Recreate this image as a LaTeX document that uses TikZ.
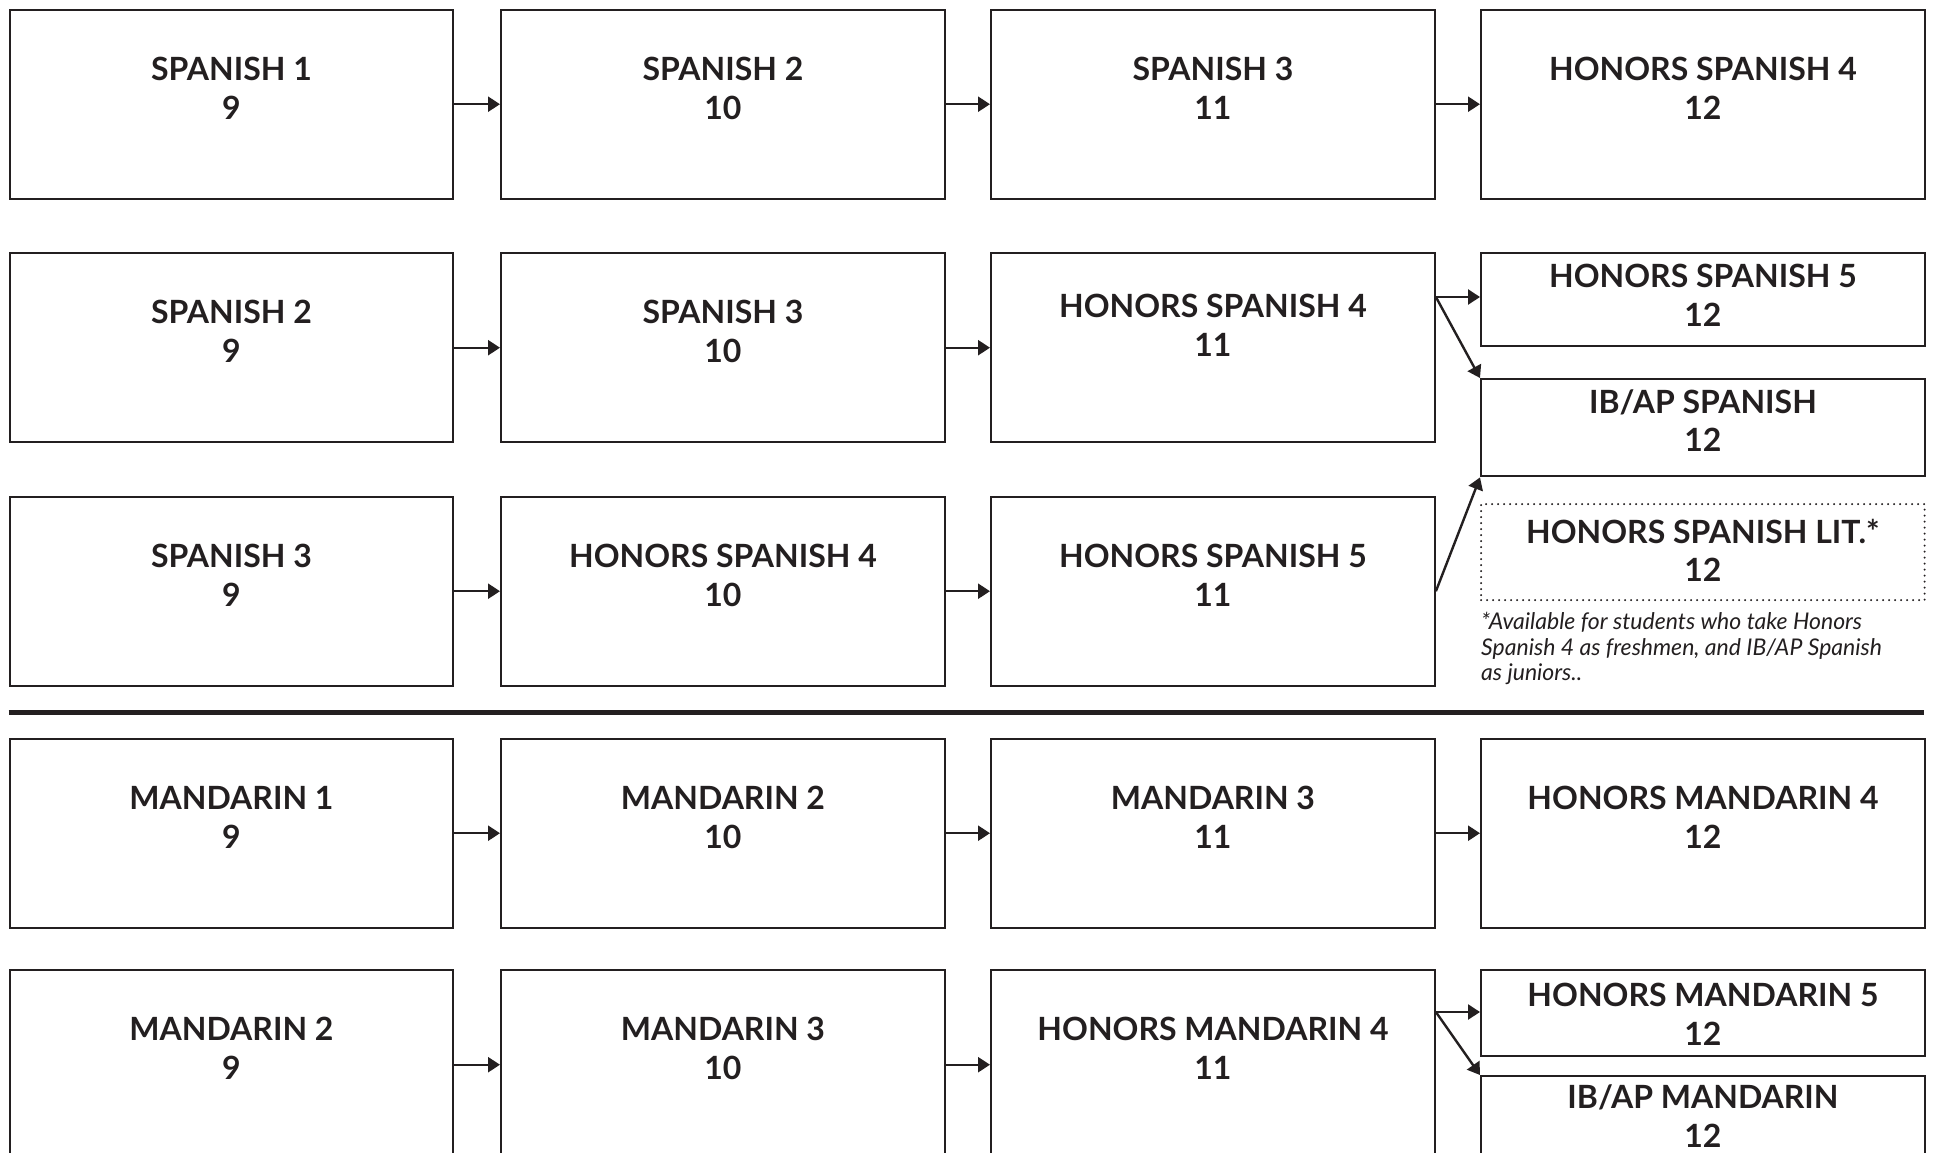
\documentclass[tikz,border=0pt]{standalone}
\usepackage{fontspec}
\setmainfont{Lato}
\usetikzlibrary{arrows.meta,calc}
\definecolor{ink}{RGB}{35,31,32}
\newcommand\coursebox[6]{%
  \node[box] (#1) at (#2,#3) {};
  \node[ttl] (#1t) at ($(#1.north)+(0,71.5+#6)$) {#4};
  \node[ttl] (#1n) at ($(#1.north)+(0,110.5+#6)$) {#5};
}
\begin{document}
\begin{tikzpicture}[x=1pt,y=-1pt,
  box/.style={draw=ink, line width=2.4pt, rectangle, inner sep=0pt, minimum width=443.5pt, minimum height=189pt, anchor=north west},
  ttl/.style={anchor=base, inner sep=0pt, font=\fontsize{32}{38}\selectfont\bfseries, text=ink},
  arr/.style={draw=ink, line width=2.4pt, -{Triangle[length=12pt,width=15pt]}},
  dotbox/.style={draw=ink, line width=2.2pt, dash pattern=on 0pt off 6pt, line cap=round, rectangle, inner sep=0pt, minimum width=443.5pt, anchor=north west},
  note/.style={anchor=north west, align=left, inner sep=0pt, font=\fontsize{23}{25.5}\selectfont\itshape, text=ink},
]
\path[clip] (0,0) rectangle (1935,1152);
\fill[white] (0,0) rectangle (1935,1152);

% Row 1
\coursebox{a1}{8.5}{8.5}{SPANISH 1}{9}{0}
\coursebox{a2}{500}{8.5}{SPANISH 2}{10}{0}
\coursebox{a3}{990}{8.5}{SPANISH 3}{11}{0}
\coursebox{a4}{1480}{8.5}{HONORS SPANISH 4}{12}{0}
\draw[arr] (a1.east) -- (a2.west);
\draw[arr] (a2.east) -- (a3.west);
\draw[arr] (a3.east) -- (a4.west);

% Row 2
\coursebox{b1}{8.5}{252}{SPANISH 2}{9}{0}
\coursebox{b2}{500}{252}{SPANISH 3}{10}{0}
\coursebox{b3}{990}{252}{HONORS SPANISH 4}{11}{-6}
\draw[arr] (b1.east) -- (b2.west);
\draw[arr] (b2.east) -- (b3.west);

% Row 3
\coursebox{c1}{8.5}{495.5}{SPANISH 3}{9}{0}
\coursebox{c2}{500}{495.5}{HONORS SPANISH 4}{10}{0}
\coursebox{c3}{990}{495.5}{HONORS SPANISH 5}{11}{0}
\draw[arr] (c1.east) -- (c2.west);
\draw[arr] (c2.east) -- (c3.west);

% Spanish 12th grade options
\node[box, minimum height=93pt] (hs5) at (1480,252) {};
\node[ttl] (hs5t) at ($(hs5.north)+(0,35)$) {HONORS SPANISH 5};
\node[ttl] (hs5n) at ($(hs5.north)+(0,74.5)$) {12};
\node[box, minimum height=97pt] (ibs) at (1480,378) {};
\node[ttl] (ibst) at ($(ibs.north)+(0,35)$) {IB/AP SPANISH};
\node[ttl] (ibsn) at ($(ibs.north)+(0,73.5)$) {12};
\node[dotbox, minimum height=96pt] (lit) at (1480,503) {};
\node[ttl] (litt) at ($(lit.north)+(0,40)$) {HONORS SPANISH LIT.*};
\node[ttl] (litn) at ($(lit.north)+(0,78)$) {12};
\node[note] (fn) at (1481,612) {*Available for students who take Honors\\Spanish 4 as freshmen, and IB/AP Spanish\\as juniors..};

\coordinate (bsplit) at ($(b3.north east)+(0,45)$);
\draw[arr] (bsplit) -- (bsplit -| hs5.west);
\draw[arr] (bsplit) -- (ibs.north west);
\draw[arr] (c3.east) -- (ibs.south west);

% Separator
\draw[ink, line width=5pt] (8.5,712) -- (1923.5,712);

% Row 4
\coursebox{d1}{8.5}{737.5}{MANDARIN 1}{9}{0}
\coursebox{d2}{500}{737.5}{MANDARIN 2}{10}{0}
\coursebox{d3}{990}{737.5}{MANDARIN 3}{11}{0}
\coursebox{d4}{1480}{737.5}{HONORS MANDARIN 4}{12}{0}
\draw[arr] (d1.east) -- (d2.west);
\draw[arr] (d2.east) -- (d3.west);
\draw[arr] (d3.east) -- (d4.west);

% Row 5
\coursebox{e1}{8.5}{969}{MANDARIN 2}{9}{0}
\coursebox{e2}{500}{969}{MANDARIN 3}{10}{0}
\coursebox{e3}{990}{969}{HONORS MANDARIN 4}{11}{0}
\draw[arr] (e1.east) -- (e2.west);
\draw[arr] (e2.east) -- (e3.west);

\node[box, minimum height=86pt] (hm5) at (1480,969) {};
\node[ttl] (hm5t) at ($(hm5.north)+(0,37.5)$) {HONORS MANDARIN 5};
\node[ttl] (hm5n) at ($(hm5.north)+(0,76)$) {12};
\node[box] (ibm) at (1480,1075) {};
\node[ttl] (ibmt) at ($(ibm.north)+(0,33.5)$) {IB/AP MANDARIN};
\node[ttl] (ibmn) at ($(ibm.north)+(0,72)$) {12};

\coordinate (esplit) at ($(e3.north east)+(0,43)$);
\draw[arr] (esplit) -- (esplit -| hm5.west);
\draw[arr] (esplit) -- (ibm.north west);
\end{tikzpicture}
\end{document}
